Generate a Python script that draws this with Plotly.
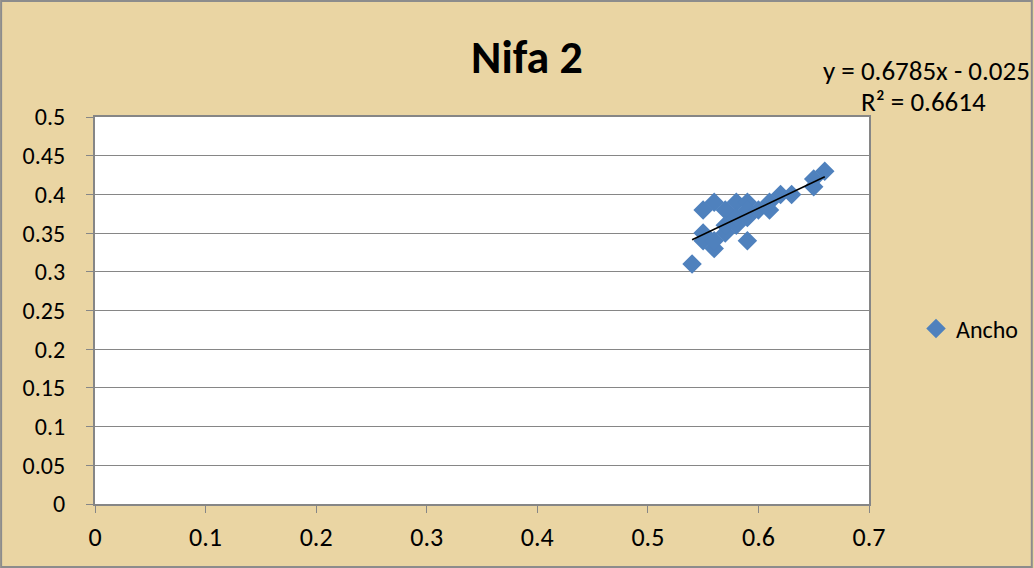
import plotly.graph_objects as go

x_vals = [0.54, 0.55, 0.55, 0.55, 0.56, 0.56, 0.56, 0.57, 0.57, 0.57, 0.58, 0.58, 0.58,
          0.59, 0.59, 0.59, 0.59, 0.60, 0.61, 0.61, 0.62, 0.63, 0.65, 0.65, 0.66]
y_vals = [0.31, 0.38, 0.35, 0.34, 0.39, 0.33, 0.34, 0.38, 0.35, 0.36, 0.39, 0.36, 0.37,
          0.39, 0.34, 0.37, 0.38, 0.38, 0.38, 0.39, 0.40, 0.40, 0.42, 0.41, 0.43]
slope = 0.6785
intercept = -0.025
eq_text = "y = 0.6785x - 0.025"
r2_text = "R² = 0.6614"
x_ticks = [0, 0.1, 0.2, 0.3, 0.4, 0.5, 0.6, 0.7]
y_ticks = [0, 0.05, 0.1, 0.15, 0.2, 0.25, 0.3, 0.35, 0.4, 0.45, 0.5]

W, H = 1034, 568
L, R, T, B = 95, 164, 117, 64
pw, ph = W - L - R, H - T - B
FONT = "Carlito, Lato, Liberation Sans, sans-serif"

trend_x = [min(x_vals), max(x_vals)]
trend_y = [slope * v + intercept for v in trend_x]

fig = go.Figure()
fig.add_trace(go.Scatter(
    x=x_vals, y=y_vals, mode="markers", name="Ancho",
    marker=dict(symbol="diamond", size=15, color="#4F81BD",
                line=dict(width=0))))
fig.add_trace(go.Scatter(
    x=trend_x, y=trend_y, mode="lines", showlegend=False,
    line=dict(color="black", width=1.5)))

fig.update_layout(
    width=W, height=H,
    margin=dict(l=L, r=R, t=T, b=B, pad=0),
    paper_bgcolor="#EAD5A3",
    plot_bgcolor="white",
    font=dict(family=FONT, size=26, color="black"),
    title=dict(text="<b>Nifa 2</b>", x=527 / W, xanchor="center",
               y=1 - 57 / H, yanchor="middle",
               font=dict(size=46, family=FONT)),
    showlegend=True,
    legend=dict(x=1 + 46 / pw, xanchor="left", y=1 - (329 - T) / ph,
                yanchor="middle", bgcolor="rgba(0,0,0,0)",
                font=dict(size=24), itemwidth=30),
    xaxis=dict(range=[0, 0.7], tickvals=x_ticks,
               ticktext=[f"{v:g}" for v in x_ticks],
               showgrid=False, zeroline=False,
               showline=True, linecolor="#868686", linewidth=1.5,
               ticks="outside", ticklen=7, tickcolor="#868686",
               mirror=True, tickfont=dict(size=26, family=FONT),
               ticklabelstandoff=2),
    yaxis=dict(range=[0, 0.5], tickvals=y_ticks,
               ticktext=[f"{v:g}\u00a0\u00a0\u00a0" for v in y_ticks],
               showgrid=True, gridcolor="#868686", gridwidth=1,
               zeroline=False,
               showline=True, linecolor="#868686", linewidth=1.5,
               ticks="outside", ticklen=7, tickcolor="#868686",
               mirror=True, tickfont=dict(size=24, family=FONT)),
)

fig.add_annotation(text=eq_text, xref="paper", yref="paper",
                   x=1 + (928 - L - pw) / pw, y=1 + (T - 71) / ph,
                   xanchor="center", yanchor="middle", showarrow=False,
                   font=dict(size=27))
fig.add_annotation(text=r2_text, xref="paper", yref="paper",
                   x=1 + (925 - L - pw) / pw, y=1 + (T - 102) / ph,
                   xanchor="center", yanchor="middle", showarrow=False,
                   font=dict(size=27))

fig.add_shape(type="rect", xref="paper", yref="paper",
              x0=-(L - 1) / pw, x1=1 + (R - 1) / pw,
              y0=-(B - 1) / ph, y1=1 + (T - 1) / ph,
              line=dict(color="#8C8C8C", width=2), layer="below")

fig.write_html("out.html", config={"displayModeBar": False},
               post_script="document.body.style.margin='0';document.body.style.overflow='hidden';")
